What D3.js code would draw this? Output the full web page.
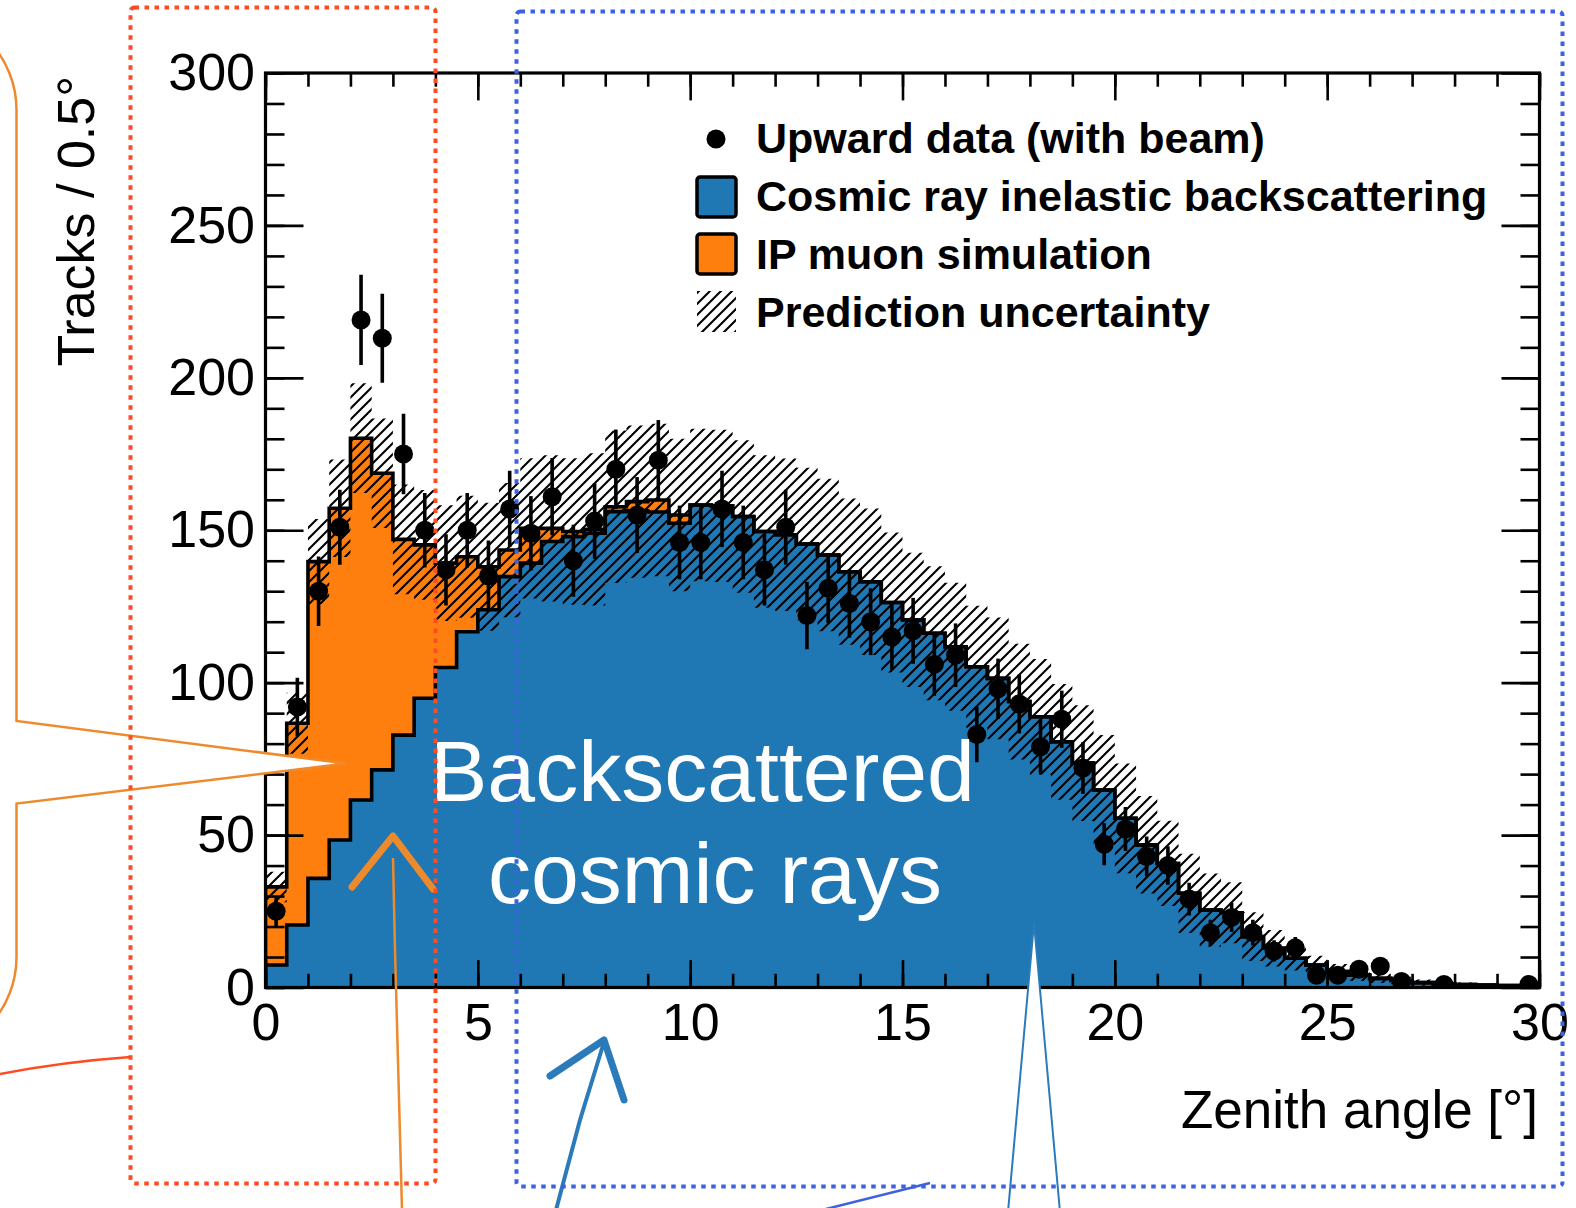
<!DOCTYPE html>
<html><head><meta charset="utf-8">
<script src="https://cdn.jsdelivr.net/npm/d3@7"></script>
<style>html,body{margin:0;padding:0;background:#fff;} svg{display:block;}</style>
</head><body>
<svg id="c" width="1576" height="1208"></svg>
<script>
// ---------------- data ----------------
const binLow = d3.range(0, 30, 0.5);   // 60 bins of 0.5 deg
const binWidth = 0.5;
const cosmic = [7.4, 20.5, 35.8, 48.4, 61.5, 71.4, 82.8, 94.9, 105, 116.7,
  123.9, 134.8, 139.2, 146.3, 147.9, 149, 156.1, 156.4, 156, 152.3,
  158.3, 158, 154.5, 149.6, 148.5, 145.5, 141.9, 136.4, 133.1, 126.3,
  120.6, 116.2, 111.8, 105.2, 101.4, 93.8, 88.8, 80.6, 73.6, 64.8,
  55.5, 46.8, 40.7, 30.9, 25.4, 24.5, 16.7, 12.9, 9.6, 7.4,
  5.2, 4.1, 3.0, 2.3, 1.6, 1.2, 1.0, 0.8, 0.6, 0.5];
const ipMuon = [25.6, 66.2, 103.9, 108.8, 118.7, 97.3, 64.2, 50.3, 34.2, 24.6,
  14.1, 8.7, 11.4, 4.3, 1.7, 1.3, 1.6, 3.0, 3.9, 2.7,
  0, 0, 0, 0, 0, 0, 0, 0, 0, 0,
  0, 0, 0, 0, 0, 0, 0, 0, 0, 0,
  0, 0, 0, 0, 0, 0, 0, 0, 0, 0,
  0, 0, 0, 0, 0, 0, 0, 0, 0, 0];
const predUnc = [5, 10, 14, 16, 18, 18, 18, 18, 19, 20,
  21, 22, 23, 24, 24, 25, 25, 25, 25, 25,
  25, 25, 25, 25, 25, 25, 25, 24, 24, 23,
  22, 22, 21, 20, 20, 19, 19, 19, 19, 18,
  18, 16, 14, 13, 12, 10, 8, 6, 4, 3,
  2.5, 2, 1.5, 1.2, 1, 0.8, 0.6, 0.4, 0.3, 0.2];
const dataCounts = [25, 92, 130, 151, 219, 213, 175, 150, 137, 150,
  135, 157, 149, 161, 140, 153, 170, 155, 173, 146,
  146, 157, 146, 137, 151, 122, 131, 126, 120, 115,
  117, 106, 109, 83, 98, 93, 79, 88, 72, 47,
  52, 43, 40, 29, 18, 23, 18, 12, 13, 4,
  4, 6, 7, 2, 0, 1, 0, 0, 0, 1];
const xTicks = [0, 5, 10, 15, 20, 25, 30];
const yTicks = [0, 50, 100, 150, 200, 250, 300];
const legendLabels = ["Upward data (with beam)", "Cosmic ray inelastic backscattering",
  "IP muon simulation", "Prediction uncertainty"];
const xTitle = "Zenith angle [°]";
const yTitle = "Tracks / 0.5°";
const annoLines = ["Backscattered", "cosmic rays"];

// ---------------- setup ----------------
const FONT = "'Liberation Sans', Arial, Helvetica, sans-serif";
const BLUE = "#1f77b4", ORANGE = "#ff7f0e";
const svg = d3.select("#c");
svg.append("rect").attr("width", 1576).attr("height", 1208).attr("fill", "#fff");

const x = d3.scaleLinear().domain([0, 30]).range([265.5, 1539.5]);
const y = d3.scaleLinear().domain([0, 300]).range([987.5, 73]);

const defs = svg.append("defs");
const pat = defs.append("pattern").attr("id", "hatch").attr("patternUnits", "userSpaceOnUse")
  .attr("width", 11).attr("height", 11);
pat.append("path").attr("d", "M-1,1 l2,-2 M0,11 l11,-11 M10,12 l2,-2")
  .attr("stroke", "#000").attr("stroke-width", 2.1);
defs.append("clipPath").attr("id", "plotclip").append("rect")
  .attr("x", x(0)).attr("y", y(300)).attr("width", x(30) - x(0)).attr("height", y(0) - y(300));

const total = cosmic.map((v, i) => v + ipMuon[i]);
const steps = vals => {
  const pts = [];
  vals.forEach((v, i) => { pts.push([binLow[i], v]); pts.push([binLow[i] + binWidth, v]); });
  return pts;
};

const plot = svg.append("g").attr("clip-path", "url(#plotclip)");
const area = d3.area().x(d => x(d[0])).y0(y(0)).y1(d => y(d[1]));
const line = d3.line().x(d => x(d[0])).y(d => y(d[1]));

plot.append("path").attr("d", area(steps(total))).attr("fill", ORANGE);
plot.append("path").attr("d", area(steps(cosmic))).attr("fill", BLUE);
const withEnds = vals => [[0, 0], ...steps(vals), [30, 0]];
plot.append("path").attr("d", line(withEnds(cosmic))).attr("fill", "none")
  .attr("stroke", "#000").attr("stroke-width", 3.6).attr("stroke-linejoin", "miter");
plot.append("path").attr("d", line(withEnds(total))).attr("fill", "none")
  .attr("stroke", "#000").attr("stroke-width", 3.6).attr("stroke-linejoin", "miter");

// uncertainty band
const band = [];
total.forEach((v, i) => {
  const lo = Math.max(0, v - predUnc[i]), hi = v + predUnc[i];
  band.push([binLow[i], lo, hi]); band.push([binLow[i] + binWidth, lo, hi]);
});
plot.append("path").attr("d", d3.area().x(d => x(d[0])).y0(d => y(d[1])).y1(d => y(d[2]))(band))
  .attr("fill", "url(#hatch)");

// data points
const pts = dataCounts.map((v, i) => ({ xc: binLow[i] + binWidth / 2, v, e: Math.sqrt(v) })).filter(d => d.v > 0);
plot.selectAll("line.err").data(pts).join("line").attr("class", "err")
  .attr("x1", d => x(d.xc)).attr("x2", d => x(d.xc))
  .attr("y1", d => y(d.v - d.e)).attr("y2", d => y(d.v + d.e))
  .attr("stroke", "#000").attr("stroke-width", 3.6);
plot.selectAll("circle.pt").data(pts).join("circle").attr("class", "pt")
  .attr("cx", d => x(d.xc)).attr("cy", d => y(d.v)).attr("r", 9.5).attr("fill", "#000");

// ---------------- axes ----------------
const styleAxis = g => {
  g.select(".domain").remove();
  g.selectAll(".tick line").attr("stroke", "#000").attr("stroke-width", 2.6);
  g.selectAll(".tick text").attr("font-family", FONT).attr("font-size", 52).attr("fill", "#000");
};
svg.append("g").attr("transform", `translate(0,${y(0)})`)
  .call(d3.axisBottom(x).tickValues(d3.range(0, 31, 1)).tickSize(-13.7).tickFormat("")).call(styleAxis);
svg.append("g").attr("transform", `translate(0,${y(0)})`)
  .call(d3.axisBottom(x).tickValues(xTicks).tickSize(-27.4).tickPadding(15.5).tickFormat(d3.format("d"))).call(styleAxis);
svg.append("g").attr("transform", `translate(0,${y(300)})`)
  .call(d3.axisTop(x).tickValues(d3.range(0, 31, 1)).tickSize(-13.7).tickFormat("")).call(styleAxis);
svg.append("g").attr("transform", `translate(0,${y(300)})`)
  .call(d3.axisTop(x).tickValues(xTicks).tickSize(-27.4).tickFormat("")).call(styleAxis);
svg.append("g").attr("transform", `translate(${x(0)},0)`)
  .call(d3.axisLeft(y).tickValues(d3.range(0, 301, 10)).tickSize(-19).tickFormat("")).call(styleAxis);
svg.append("g").attr("transform", `translate(${x(0)},0)`)
  .call(d3.axisLeft(y).tickValues(yTicks).tickSize(-38).tickPadding(10.5).tickFormat(d3.format("d"))).call(styleAxis);
svg.append("g").attr("transform", `translate(${x(30)},0)`)
  .call(d3.axisRight(y).tickValues(d3.range(0, 301, 10)).tickSize(-19).tickFormat("")).call(styleAxis);
svg.append("g").attr("transform", `translate(${x(30)},0)`)
  .call(d3.axisRight(y).tickValues(yTicks).tickSize(-38).tickFormat("")).call(styleAxis);
svg.append("rect").attr("x", x(0)).attr("y", y(300)).attr("width", x(30) - x(0)).attr("height", y(0) - y(300))
  .attr("fill", "none").attr("stroke", "#000").attr("stroke-width", 3.2);

svg.append("text").attr("x", 1538).attr("y", 1128).attr("text-anchor", "end")
  .attr("font-family", FONT).attr("font-size", 53).text(xTitle);
svg.append("text").attr("transform", "translate(94,76) rotate(-90)").attr("text-anchor", "end")
  .attr("font-family", FONT).attr("font-size", 52).text(yTitle);

// ---------------- legend ----------------
const lg = svg.append("g");
const lgY = [153, 211, 269, 327];
lg.append("circle").attr("cx", 716).attr("cy", 139).attr("r", 9.5).attr("fill", "#000");
lg.append("rect").attr("x", 697).attr("y", 177).attr("width", 39).attr("height", 40).attr("rx", 3)
  .attr("fill", BLUE).attr("stroke", "#000").attr("stroke-width", 3.5);
lg.append("rect").attr("x", 697).attr("y", 234).attr("width", 39).attr("height", 40).attr("rx", 3)
  .attr("fill", ORANGE).attr("stroke", "#000").attr("stroke-width", 3.5);
lg.append("rect").attr("x", 697).attr("y", 291).attr("width", 39).attr("height", 41).attr("fill", "url(#hatch)");
lg.selectAll("text").data(legendLabels).join("text")
  .attr("x", 756).attr("y", (d, i) => lgY[i]).attr("font-family", FONT).attr("font-weight", "bold")
  .attr("font-size", 43).attr("fill", "#000").text(d => d);

// ---------------- annotations ----------------
const an = svg.append("g");
an.append("text").attr("x", 430).attr("y", 801).attr("font-family", FONT).attr("font-size", 86)
  .attr("fill", "#fff").text(annoLines[0]);
an.append("text").attr("x", 488).attr("y", 903).attr("font-family", FONT).attr("font-size", 86)
  .attr("fill", "#fff").text(annoLines[1]);

// speech bubble (orange)
an.append("path")
  .attr("d", "M-300,10 H-83.5 A100,100 0 0 1 16.5,110 V721 L346,763.5 L16.5,803.5 V957 A100,100 0 0 1 -83.5,1057 H-300 Z")
  .attr("fill", "#fff").attr("stroke", "#ee8a2e").attr("stroke-width", 2.5);
an.append("path").attr("d", "M-5,1075 Q60,1062 130.5,1057").attr("fill", "none")
  .attr("stroke", "#ff4b22").attr("stroke-width", 2.5);

// orange hand-drawn arrow
an.append("path").attr("d", "M393,858 L395,950 L402,1210").attr("fill", "none")
  .attr("stroke", "#ec8a2c").attr("stroke-width", 2.5);
an.append("path").attr("d", "M352,887 L393,836 L433,889").attr("fill", "none")
  .attr("stroke", "#ec8a2c").attr("stroke-width", 7).attr("stroke-linejoin", "round").attr("stroke-linecap", "round");

// blue hand-drawn arrow
an.append("path").attr("d", "M604,1042 L580,1120 L556,1210").attr("fill", "none")
  .attr("stroke", "#2b7bba").attr("stroke-width", 4);
an.append("path").attr("d", "M550,1076 L604,1040 L624,1100").attr("fill", "none")
  .attr("stroke", "#2b7bba").attr("stroke-width", 7).attr("stroke-linejoin", "round").attr("stroke-linecap", "round");

// thin blue line
an.append("path").attr("d", "M822,1210 L930,1183").attr("stroke", "#3d62e0").attr("stroke-width", 2.5);

// white spike
an.append("path").attr("d", "M1008,1212 L1034,923 L1060,1212 Z").attr("fill", "#fff")
  .attr("stroke", "#2b7bba").attr("stroke-width", 2);

// dotted boxes
an.append("rect").attr("x", 130.5).attr("y", 7.5).attr("width", 305).attr("height", 1176).attr("rx", 4)
  .attr("fill", "none").attr("stroke", "#ff4b22").attr("stroke-width", 4).attr("stroke-dasharray", "4.5 5.5");
an.append("rect").attr("x", 516.5).attr("y", 11.5).attr("width", 1046).attr("height", 1175).attr("rx", 4)
  .attr("fill", "none").attr("stroke", "#3d62e0").attr("stroke-width", 4).attr("stroke-dasharray", "4.5 5.5");
</script>
</body></html>
